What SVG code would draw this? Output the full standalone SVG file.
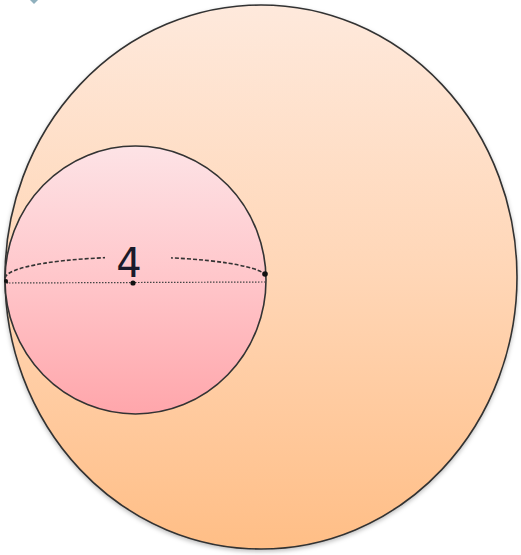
<svg xmlns="http://www.w3.org/2000/svg" width="521" height="555" viewBox="0 0 521 555">
  <defs>
    <linearGradient id="gBig" x1="0" y1="0" x2="0" y2="1">
      <stop offset="0" stop-color="#FEE9DC"/>
      <stop offset="0.5" stop-color="#FFD6B6"/>
      <stop offset="1" stop-color="#FFBE86"/>
    </linearGradient>
    <linearGradient id="gSmall" x1="0" y1="0" x2="0" y2="1">
      <stop offset="0" stop-color="#FDE3E6"/>
      <stop offset="0.5" stop-color="#FFC6CA"/>
      <stop offset="1" stop-color="#FFA6AB"/>
    </linearGradient>
    <clipPath id="gap">
      <rect x="0" y="240" width="105" height="60"/>
      <rect x="171" y="240" width="110" height="60"/>
    </clipPath>
    <filter id="sh" x="-5%" y="-5%" width="110%" height="112%">
      <feDropShadow dx="0" dy="2" stdDeviation="2" flood-color="#000" flood-opacity="0.25"/>
    </filter>
  </defs>
  <style>
    .outline { stroke: #333; stroke-width: 1.6; }
    .dash { fill: none; stroke: #333; stroke-width: 1.6; stroke-dasharray: 4 2; }
    .dot { fill: none; stroke: #444; stroke-width: 1.2; stroke-dasharray: 1.5 1.5; }
    .pt { fill: #111; }
    .lbl { font-family: "DejaVu Sans", "Liberation Sans", sans-serif; font-size: 40px; fill: #1a1a2a; }
  </style>
  <rect width="521" height="555" fill="#fff"/>
  <polygon points="30,0 38,0 34,4" fill="#8fb0bd"/>
  <g id="outer-sphere">
    <ellipse cx="261" cy="277" rx="256" ry="272" fill="url(#gBig)" class="outline" filter="url(#sh)"/>
  </g>
  <g id="inner-sphere">
    <ellipse cx="135.5" cy="280" rx="130.5" ry="134" fill="url(#gSmall)" class="outline"/>
  </g>
  <g id="connectors">
    <path d="M8,283 A129 21 0 0 1 265,274" class="dash" clip-path="url(#gap)"/>
    <line x1="6" y1="283" x2="265" y2="282" class="dot"/>
    <circle cx="133" cy="283" r="2.6" class="pt"/>
    <circle cx="265" cy="274" r="2.8" class="pt"/>
    <circle cx="6" cy="281" r="2" class="pt"/>
  </g>
  <g id="label">
    <text x="129" y="277" text-anchor="middle" class="lbl">4</text>
  </g>
</svg>
